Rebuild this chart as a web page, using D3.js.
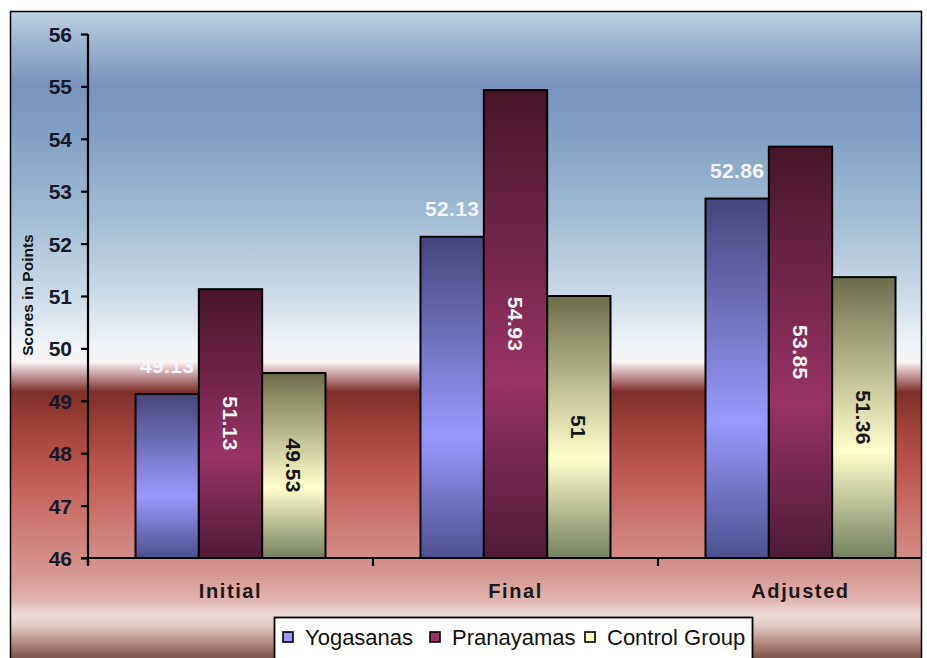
<!DOCTYPE html>
<html><head><meta charset="utf-8">
<script src="https://cdn.jsdelivr.net/npm/d3@7"></script>
<style>
html,body{margin:0;padding:0;background:#fff;}
svg{display:block;font-family:"Liberation Sans",Arial,sans-serif;}
</style></head>
<body><svg id="c" width="927" height="658"></svg>
<script>
const categories = ["Initial", "Final", "Adjusted"];
const seriesNames = ["Yogasanas", "Pranayamas", "Control Group"];
const yogasanas = [49.13, 52.13, 52.86];
const pranayamas = [51.13, 54.93, 53.85];
const controlGroup = [49.53, 51, 51.36];
const yTicks = [46, 47, 48, 49, 50, 51, 52, 53, 54, 55, 56];
const yTitle = "Scores in Points";

const seriesValues = [yogasanas, pranayamas, controlGroup];
const baseColors = ["#9999ff", "#993366", "#ffffcc"];
const darkColors = ["#45467a", "#461528", "#6c6c4c"];
const bottomColors = ["#4d5090", "#4e1a36", "#748060"];
const labelColors = ["#f4f4fa", "#f8f4f6", "#151515"];

const svg = d3.select("#c");
const defs = svg.append("defs");

// background gradient
const bg = defs.append("linearGradient").attr("id","bg")
  .attr("gradientUnits","userSpaceOnUse").attr("x1",0).attr("x2",0).attr("y1",11).attr("y2",670);
const bgStops = [[11,"#c0d2e2"],[40,"#a0b7d1"],[85,"#7a93ba"],[130,"#819fc2"],[220,"#a3bdd3"],[300,"#d0dde9"],[348,"#f2f5f9"],[362,"#f8f4f4"],[378,"#b8888a"],[392,"#7e2e2a"],[430,"#a3423c"],[470,"#be5650"],[520,"#cd7570"],[575,"#d79894"],[600,"#dfb4b0"],[614,"#ecdcd8"],[626,"#e2cbc5"],[645,"#a98179"],[662,"#6e4840"]];
bgStops.forEach(([y,c])=>bg.append("stop").attr("offset",(y-11)/(670-11)).attr("stop-color",c));

seriesNames.forEach((s,i)=>{
  const g = defs.append("linearGradient").attr("id","bar"+i).attr("x1",0).attr("x2",0).attr("y1",0).attr("y2",1);
  g.append("stop").attr("offset",0).attr("stop-color",darkColors[i]);
  g.append("stop").attr("offset",0.62).attr("stop-color",baseColors[i]);
  g.append("stop").attr("offset",1).attr("stop-color",bottomColors[i]);
});

defs.append("clipPath").attr("id","clip").append("rect")
  .attr("x",10).attr("y",11).attr("width",912).attr("height",660);

svg.append("rect").attr("x",10).attr("y",11).attr("width",912).attr("height",660)
  .attr("fill","url(#bg)");

const y = d3.scaleLinear().domain([46,56]).range([558,34]);
const x = d3.scaleBand().domain(categories).range([88,943]).padding(0);
const xs = d3.scaleBand().domain(seriesNames)
  .range([x.bandwidth()/6, x.bandwidth()*5/6]).padding(0);

const plot = svg.append("g").attr("clip-path","url(#clip)");

// bars
seriesNames.forEach((s,i)=>{
  plot.selectAll(".b"+i).data(categories).enter().append("rect")
    .attr("x",(c)=>x(c)+xs(s))
    .attr("y",(c,j)=>y(seriesValues[i][j]))
    .attr("width",xs.bandwidth())
    .attr("height",(c,j)=>y(46)-y(seriesValues[i][j]))
    .attr("fill","url(#bar"+i+")")
    .attr("stroke","#000").attr("stroke-width",2);
});

// axes
const yAxis = d3.axisLeft(y).tickValues(yTicks).tickSize(7).tickFormat(d3.format("d"));
const ya = svg.append("g").attr("transform","translate(88,0)").call(yAxis);
ya.select(".domain").attr("d","M0,34V566").attr("stroke","#000").attr("stroke-width",2.2);
ya.selectAll(".tick line").attr("stroke","#000").attr("stroke-width",2.2);
ya.selectAll(".tick text").attr("x",-16).attr("dy","0.36em")
  .attr("font-size",21).attr("font-weight","bold").attr("fill","#17182a")
  .attr("font-family","'Liberation Sans',Arial,sans-serif");

const xa = plot.append("g").attr("transform","translate(0,558)");
xa.append("line").attr("x1",81).attr("x2",943).attr("y1",0).attr("y2",0)
  .attr("stroke","#000").attr("stroke-width",2.2);
xa.selectAll(".xt").data(categories).enter().append("line")
  .attr("x1",c=>x(c)).attr("x2",c=>x(c)).attr("y1",0).attr("y2",8)
  .attr("stroke","#000").attr("stroke-width",2.2);
svg.selectAll(".xl").data(categories).enter().append("text")
  .attr("x",c=>x(c)+x.bandwidth()/2).attr("y",598)
  .attr("text-anchor","middle").attr("font-size",20).attr("font-weight","bold")
  .attr("letter-spacing","1.6px").attr("fill","#1a1a1a").text(c=>c);

// y title
svg.append("text").attr("transform","translate(33,295) rotate(-90)")
  .attr("text-anchor","middle").attr("font-size",15.5).attr("font-weight","bold")
  .attr("fill","#111").text(yTitle);

// data labels
const fmt = v => String(v);
// Yogasanas: horizontal, above bar
plot.selectAll(".ly").data(categories).enter().append("text")
  .attr("x",c=>x(c)+xs(seriesNames[0])+xs.bandwidth()/2)
  .attr("y",(c,j)=>y(yogasanas[j])-21)
  .attr("text-anchor","middle").attr("font-size",21).attr("font-weight","bold")
  .attr("letter-spacing","0.4px")
  .attr("fill",labelColors[0]).text((c,j)=>fmt(yogasanas[j]));
// Pranayamas and Control: rotated, centered in bar
[1,2].forEach(i=>{
  plot.selectAll(".lr"+i).data(categories).enter().append("text")
    .attr("transform",(c,j)=>{
      const cx = x(c)+xs(seriesNames[i])+xs.bandwidth()/2;
      const cy = (y(seriesValues[i][j])+y(46))/2;
      return `translate(${cx},${cy}) rotate(90)`;
    })
    .attr("text-anchor","middle").attr("dy","0.36em")
    .attr("font-size",21).attr("font-weight","bold").attr("letter-spacing","0.4px")
    .attr("fill",labelColors[i]).text((c,j)=>fmt(seriesValues[i][j]));
});

// outer border
svg.append("path").attr("d","M10.5,671V11.5H921.5V671").attr("fill","none")
  .attr("stroke","#000").attr("stroke-width",1.5);

// legend
const lg = svg.append("g");
lg.append("rect").attr("x",274.5).attr("y",617.5).attr("width",478).attr("height",60)
  .attr("fill","#fff").attr("stroke","#000").attr("stroke-width",1.8);
const legendX = [283, 430, 585];
seriesNames.forEach((s,i)=>{
  lg.append("rect").attr("x",legendX[i]).attr("y",632).attr("width",10).attr("height",10)
    .attr("fill",baseColors[i]).attr("stroke","#000").attr("stroke-width",1.6);
  lg.append("text").attr("x",legendX[i]+22).attr("y",645)
    .attr("font-size",22).attr("fill","#111").text(s);
});
</script></body></html>
